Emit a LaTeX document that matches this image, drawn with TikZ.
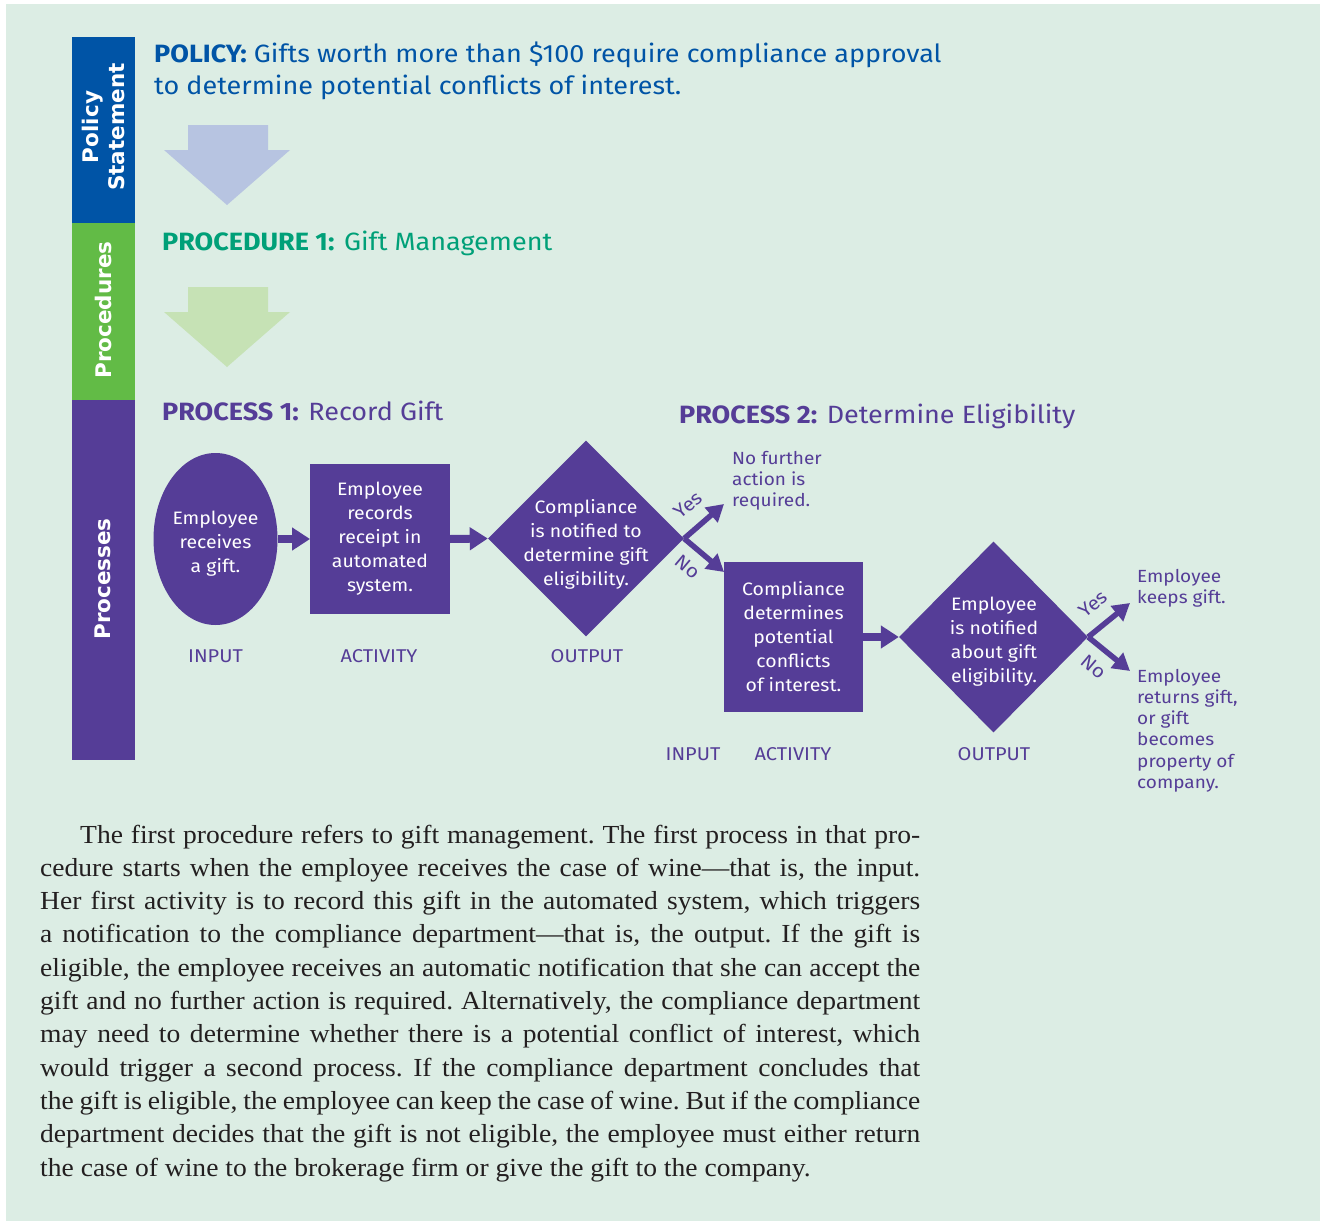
\documentclass[tikz,border=0pt]{standalone}
\usepackage{fontspec}
\setmainfont{Liberation Serif}[FakeStretch=1.06]
\newfontfamily\dfont{Fira Sans}[FakeStretch=1.08]
\newfontfamily\sfont{DejaVu Sans}
\usetikzlibrary{shapes.geometric,arrows.meta}
\definecolor{bgmint}{RGB}{220,237,228}
\definecolor{polblue}{RGB}{0,84,166}
\definecolor{procgreen}{RGB}{98,187,70}
\definecolor{pur}{RGB}{85,61,151}
\definecolor{teal}{RGB}{0,160,120}
\definecolor{lblue}{RGB}{183,196,225}
\definecolor{lgreen}{RGB}{198,226,181}
\definecolor{bodyink}{RGB}{35,31,32}
\tikzset{
  shapefill/.style={fill=pur, draw=none, inner sep=0pt},
  intext/.style={text=white, font=\dfont\fontsize{18pt}{24pt}\selectfont, align=center, inner sep=0pt},
  steplabel/.style={text=pur, font=\dfont\fontsize{18.5pt}{24pt}\selectfont, anchor=base, inner sep=0pt},
  sidenote/.style={text=pur, font=\dfont\fontsize{17.6pt}{21.3pt}\selectfont, anchor=base west, inner sep=0pt},
  yn/.style={text=pur, font=\dfont\fontsize{19pt}{20pt}\selectfont, inner sep=0pt},
  barlabel/.style={text=white, font=\sfont\bfseries\fontsize{21.5pt}{26pt}\selectfont, align=center, rotate=90, inner sep=0pt},
  harrow/.style={draw=pur, line width=8pt, -{Triangle[length=18pt,width=22pt]}},
  darrow/.style={draw=pur, line width=5.5pt, -{Triangle[length=17pt,width=19pt]}},
  heading/.style={font=\dfont\fontsize{25pt}{32pt}\selectfont, anchor=base west, inner sep=0pt}
}
\begin{document}
\begin{tikzpicture}[x=1pt,y=-1pt]
\useasboundingbox (0,0) rectangle (1322,1223);
\fill[bgmint] (6,4) rectangle (1320,1221);

% sidebar
\fill[polblue] (72,37) rectangle (135,223);
\fill[procgreen] (72,223) rectangle (135,400);
\fill[pur] (72,400) rectangle (135,760);
\node[barlabel] (lbpol) at (103,127) {Policy\\Statement};
\node[barlabel] (lbproc) at (103,310) {Procedures};
\node[barlabel] (lbprs) at (103,579) {Processes};

% headings
\node[heading, text=polblue] (policy) at (154,63) {\parbox[t]{900pt}{\textbf{POLICY:} Gifts worth more than \$100 require compliance approval\\to determine potential conflicts of interest.}};
\node[heading, text=teal] (proc1) at (162,250) {\textbf{PROCEDURE 1:} Gift Management};
\node[heading, text=pur] (pr1) at (162,420) {\textbf{PROCESS 1:} Record Gift};
\node[heading, text=pur] (pr2) at (679,423) {\textbf{PROCESS 2:} Determine Eligibility};

% big down arrows
\fill[lblue] (188,125) -- (268,125) -- (268,150) -- (290,150) -- (227,205) -- (164,150) -- (188,150) -- cycle;
\fill[lgreen] (188,287) -- (268,287) -- (268,312) -- (290,312) -- (227,367) -- (164,312) -- (188,312) -- cycle;

% process 1
\node[shapefill, ellipse, minimum width=124pt, minimum height=172pt] (e1) at (215.5,539) {};
\node[intext] (e1t) at (215.5,544) {Employee\\receives\\a gift.};
\node[shapefill, rectangle, minimum width=139.5pt, minimum height=150pt, intext] (r1) at (380,539) {Employee\\records\\receipt in\\automated\\system.};
\node[shapefill, diamond, minimum width=196pt, minimum height=196pt] (d1) at (586,538.5) {};
\node[intext] (d1t) at (586,544) {Compliance\\is notified to\\determine gift\\eligibility.};
\draw[harrow] (e1.east) -- (r1.west);
\draw[harrow] (r1.east) -- (d1.west);

\node[steplabel] (in1) at (215.5,662) {INPUT};
\node[steplabel] (ac1) at (379,662) {ACTIVITY};
\node[steplabel] (ou1) at (587,662) {OUTPUT};

% branches of process 1
\coordinate (y1) at (724,504);
\coordinate (n1) at (724,572);
\draw[darrow] (d1.east) -- (y1);
\draw[darrow] (d1.east) -- (n1);
\node[yn, rotate=40] (yes1) at (688,505) {Yes};
\node[yn, rotate=-40] (no1) at (688,567) {No};
\node[sidenote] (nofurther) at (732,464) {\parbox[t]{150pt}{\raggedright No further\\action is\\required.}};

% process 2
\node[shapefill, rectangle, minimum width=139pt, minimum height=150pt, intext] (r2) at (793.5,637) {Compliance\\determines\\potential\\conflicts\\of interest.};
\node[shapefill, diamond, minimum width=189pt, minimum height=191pt] (d2) at (993.5,637) {};
\node[intext] (d2t) at (994,641.5) {Employee\\is notified\\about gift\\eligibility.};
\draw[harrow] (r2.east) -- (d2.west);

\node[steplabel] (in2) at (693,760) {INPUT};
\node[steplabel] (ac2) at (793,760) {ACTIVITY};
\node[steplabel] (ou2) at (994,760) {OUTPUT};

\coordinate (y2) at (1130,603);
\coordinate (n2) at (1130,671);
\draw[darrow] (d2.east) -- (y2);
\draw[darrow] (d2.east) -- (n2);
\node[yn, rotate=40] (yes2) at (1093,604) {Yes};
\node[yn, rotate=-40] (no2) at (1094,667) {No};
\node[sidenote] (keeps) at (1137,582) {\parbox[t]{150pt}{\raggedright Employee\\keeps gift.}};
\node[sidenote] (returns) at (1137,682) {\parbox[t]{150pt}{\raggedright Employee\\returns gift,\\or gift\\becomes\\property of\\company.}};

% body text
\node[anchor=base west, inner sep=0pt, text=bodyink] (body) at (40,843) {\parbox[t]{880pt}{\fontsize{26pt}{33.3pt}\selectfont\frenchspacing\tolerance=9999\hyphenpenalty=10000
\hspace*{40pt}The first procedure refers to gift management. The first process in that pro-\linebreak
cedure starts when the employee receives the case of wine—that is, the input.\linebreak
Her first activity is to record this gift in the automated system, which triggers\linebreak
a notification to the compliance department—that is, the output. If the gift is\linebreak
eligible, the employee receives an automatic notification that she can accept the\linebreak
gift and no further action is required. Alternatively, the compliance department\linebreak
may need to determine whether there is a potential conflict of interest, which\linebreak
would trigger a second process. If the compliance department concludes that\linebreak
the gift is eligible, the employee can keep the case of wine. But if the compliance\linebreak
department decides that the gift is not eligible, the employee must either return\linebreak
the case of wine to the brokerage firm or give the gift to the company.}};
\end{tikzpicture}
\end{document}
